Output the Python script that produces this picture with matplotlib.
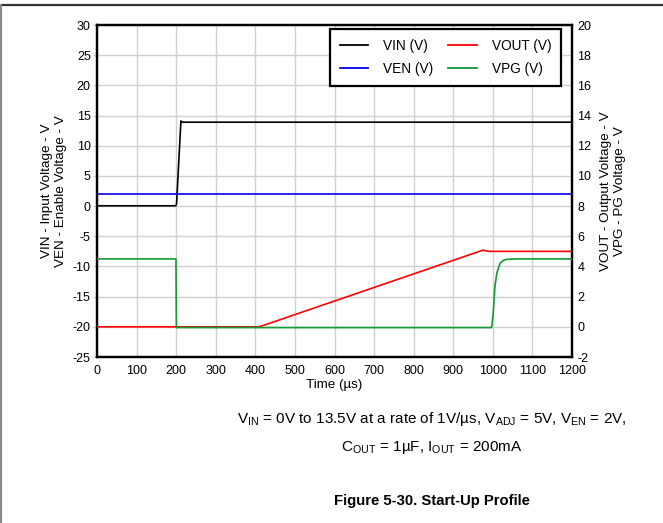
import numpy as np
import matplotlib
matplotlib.use("Agg")
import matplotlib.pyplot as plt
from matplotlib.lines import Line2D

plt.rcParams['font.family'] = ['Liberation Sans', 'DejaVu Sans']
plt.rcParams['mathtext.fontset'] = 'custom'
plt.rcParams['mathtext.rm'] = 'Liberation Sans'
plt.rcParams['axes.unicode_minus'] = False

# input side (left axis)
t_vin = [0, 199, 201, 212, 216, 1200]
vin = [0.05, 0.05, 0.4, 14.1, 13.9, 13.9]
t_ven = [0, 1200]
ven = [2.0, 2.0]

# output side (right axis)
t_vout = [0, 410, 975, 990, 1200]
vout = [0.0, 0.0, 5.08, 5.0, 5.0]
t_vpg = [0, 199.5, 200.5, 997, 1001, 1005, 1010, 1018, 1026, 1035, 1060, 1200]
vpg = [4.5, 4.5, -0.05, -0.05, 0.9, 2.6, 3.55, 4.2, 4.4, 4.47, 4.5, 4.5]

grid_c = '#d0d0d0'

fig = plt.figure(figsize=(6.63, 5.23), dpi=100)
ax = fig.add_axes([97 / 663, 1 - 357 / 523, 475 / 663, 332 / 523])
ax2 = ax.twinx()

ax.plot(t_vin, vin, color='black', lw=1.2, zorder=3)
ax.plot(t_ven, ven, color='#0000ee', lw=1.2, zorder=3)
ax2.plot(t_vout, vout, color='#ff0000', lw=1.2, zorder=3)
ax2.plot(t_vpg, vpg, color='#119933', lw=1.2, zorder=3)

ax.set_xlim(0, 1200)
ax.set_ylim(-25, 30)
ax2.set_ylim(-2, 20)
ax.set_xticks(np.arange(0, 1201, 100))
ax.set_yticks(np.arange(-25, 31, 5))
ax2.set_yticks(np.arange(-2, 21, 2))
ax.grid(True, color=grid_c, lw=1.0)
ax.set_axisbelow(True)

ax.tick_params(axis='y', labelsize=9, length=3, width=1, color=grid_c, pad=1.5)
ax.tick_params(axis='x', labelsize=9, length=0, pad=6)
ax2.tick_params(axis='y', labelsize=9, length=0, pad=4)
for a in (ax, ax2):
    for s in a.spines.values():
        s.set_linewidth(1.6)
        s.set_color('black')

ax.set_xlabel('Time (µs)', fontsize=9.6, labelpad=1)
ax.set_ylabel('VIN - Input Voltage - V\nVEN - Enable Voltage - V',
              fontsize=9.7, labelpad=4, linespacing=1.25)
ax2.set_ylabel('VOUT - Output Voltage - V\nVPG - PG Voltage - V',
               fontsize=9.7, labelpad=6, linespacing=1.25)

handles = [Line2D([], [], color='black', lw=1.3),
           Line2D([], [], color='#0000ee', lw=1.3),
           Line2D([], [], color='#ff0000', lw=1.3),
           Line2D([], [], color='#119933', lw=1.3)]
labels = ['VIN (V)', 'VEN (V)', 'VOUT (V)', 'VPG (V)']
leg = ax2.legend(handles, labels, ncol=2, loc='upper right',
                 bbox_to_anchor=(561 / 663, 1 - 29 / 523),
                 bbox_transform=fig.transFigure, borderaxespad=0,
                 fontsize=9.8, frameon=True, fancybox=False, framealpha=1,
                 edgecolor='black', handlelength=2.1, columnspacing=1.1,
                 handletextpad=1.1, borderpad=0.7, labelspacing=0.7)
leg.get_frame().set_linewidth(1.6)

# caption below the plot
cx = 432 / 663
fig.text(cx, 1 - 419 / 523,
         r'V$_\mathregular{IN}$ = 0V to 13.5V at a rate of 1V/µs, '
         r'V$_\mathregular{ADJ}$ = 5V, V$_\mathregular{EN}$ = 2V,',
         ha='center', va='center', fontsize=11)
fig.text(cx, 1 - 448 / 523,
         r'C$_\mathregular{OUT}$ = 1µF, I$_\mathregular{OUT}$ = 200mA',
         ha='center', va='center', fontsize=11)
fig.text(cx, 1 - 501 / 523, 'Figure 5-30. Start-Up Profile',
         ha='center', va='center', fontsize=10.7, fontweight='bold')

# page border lines
fig.add_artist(Line2D([0, 1], [1 - 5 / 523, 1 - 5 / 523], color='#333333',
                      lw=1.6, transform=fig.transFigure))
fig.add_artist(Line2D([0.001, 0.001], [0, 1 - 5 / 523], color='#888888',
                      lw=1.5, transform=fig.transFigure))

fig.savefig('out.png', dpi=100)
